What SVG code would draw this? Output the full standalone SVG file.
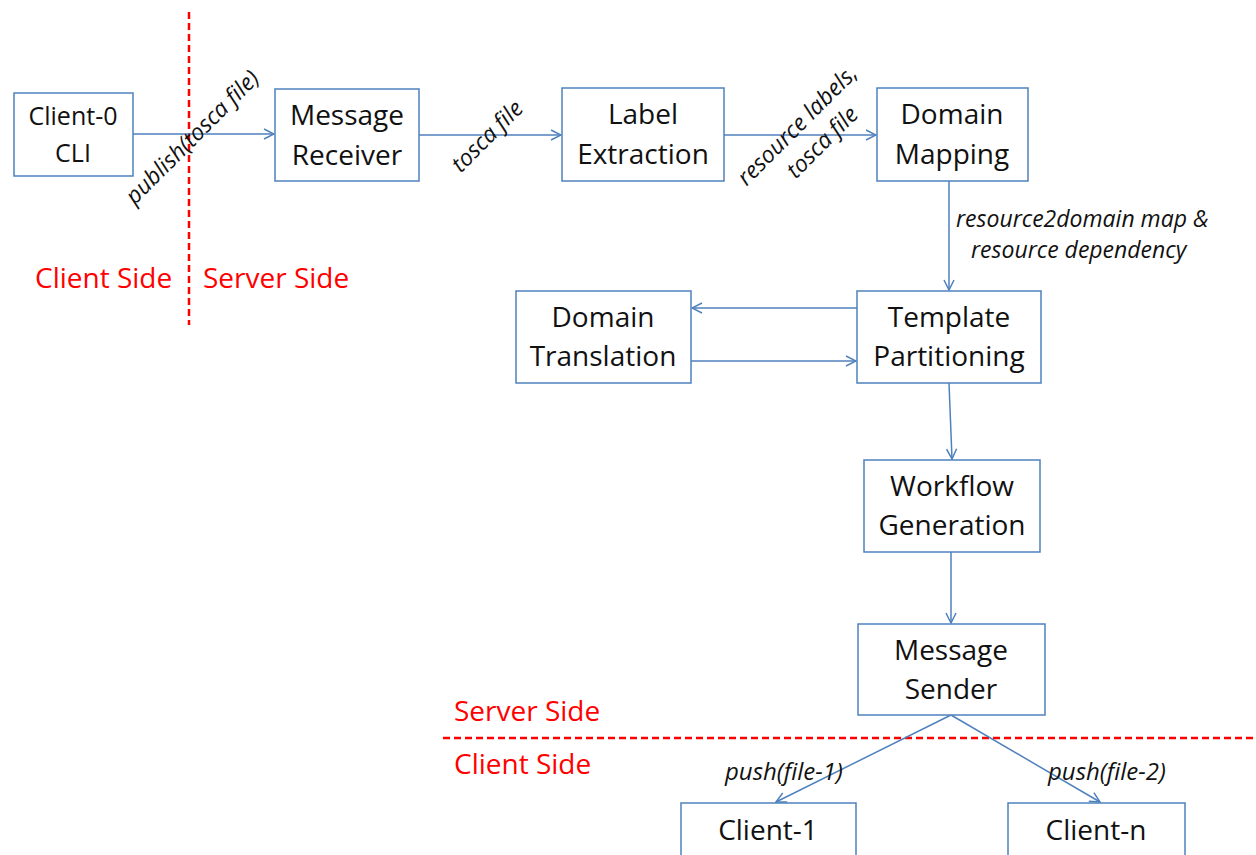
<svg xmlns="http://www.w3.org/2000/svg" width="1256" height="855" viewBox="0 0 1256 855">
<style>
.box{fill:#fff;stroke:#4F81BD;stroke-width:1.5}
.t{font-family:"Open Sans",Lato,sans-serif;font-size:28px;fill:#111;text-anchor:middle}
.s{font-size:25px}
.lbl{font-family:"Open Sans",Lato,sans-serif;font-size:23px;font-style:italic;fill:#111}
.p{font-size:24px}
.side{font-family:"Open Sans",Lato,sans-serif;font-size:28px;fill:#f00}
.red{stroke:#f00;stroke-width:2.5;stroke-dasharray:7,4;fill:none}
.c{stroke:#4F81BD;stroke-width:1.5;fill:none;marker-end:url(#ah)}
</style>
<defs>
<marker id="ah" viewBox="0 0 12 12" refX="11" refY="6" markerWidth="12" markerHeight="12" markerUnits="userSpaceOnUse" orient="auto">
<path d="M1,1 L11,6 L1,11" fill="none" stroke="#4F81BD" stroke-width="1.5"/>
</marker>
</defs>
<rect width="1256" height="855" fill="#fff"/>
<g id="dividers">
<line class="red" x1="189" y1="12" x2="189" y2="325"/>
<line class="red" x1="443" y1="738" x2="1256" y2="738"/>
<text class="side" x="35" y="288">Client Side</text>
<text class="side" x="203" y="288">Server Side</text>
<text class="side" x="454" y="721">Server Side</text>
<text class="side" x="454" y="774">Client Side</text>
</g>
<g id="connectors">
<line class="c" x1="133" y1="134" x2="274" y2="134"/>
<line class="c" x1="419" y1="135" x2="561" y2="135"/>
<line class="c" x1="724" y1="135" x2="876" y2="135"/>
<line class="c" x1="949" y1="181" x2="949" y2="290"/>
<line class="c" x1="857" y1="308" x2="692" y2="308"/>
<line class="c" x1="691" y1="361" x2="856" y2="361"/>
<line class="c" x1="949" y1="383" x2="952" y2="459"/>
<line class="c" x1="951" y1="552" x2="951" y2="623"/>
<line class="c" x1="951" y1="715" x2="776" y2="802"/>
<line class="c" x1="951" y1="715" x2="1100" y2="802"/>
<text class="lbl" transform="rotate(-45 192 137)" x="192" y="145" text-anchor="middle">publish(tosca file)</text>
<text class="lbl" transform="rotate(-45 487 136)" x="487" y="144" text-anchor="middle">tosca file</text>
<text class="lbl" transform="rotate(-45 797 125)" x="797" y="133" text-anchor="middle">resource labels,</text>
<text class="lbl" transform="rotate(-45 822 142)" x="822" y="150" text-anchor="middle">tosca file</text>
<text class="lbl" x="956" y="227">resource2domain map &amp;</text>
<text class="lbl" x="971" y="258">resource dependency</text>
<text class="lbl p" x="725" y="780">push(file-1)</text>
<text class="lbl p" x="1048" y="780">push(file-2)</text>
</g>
<g id="client0"><rect class="box" x="14" y="93" width="119" height="83"/><text class="t s" x="73" y="125">Client-0</text><text class="t s" x="73" y="162">CLI</text></g>
<g id="receiver"><rect class="box" x="275" y="89" width="144" height="92"/><text class="t" x="347" y="125">Message</text><text class="t" x="347" y="165">Receiver</text></g>
<g id="extraction"><rect class="box" x="562" y="88" width="162" height="93"/><text class="t" x="643" y="124">Label</text><text class="t" x="643" y="164">Extraction</text></g>
<g id="mapping"><rect class="box" x="877" y="88" width="151" height="93"/><text class="t" x="952" y="124">Domain</text><text class="t" x="952" y="164">Mapping</text></g>
<g id="translation"><rect class="box" x="516" y="291" width="175" height="92"/><text class="t" x="603" y="327">Domain</text><text class="t" x="603" y="366">Translation</text></g>
<g id="partitioning"><rect class="box" x="857" y="291" width="184" height="92"/><text class="t" x="949" y="327">Template</text><text class="t" x="949" y="366">Partitioning</text></g>
<g id="workflow"><rect class="box" x="864" y="460" width="176" height="92"/><text class="t" x="952" y="496">Workflow</text><text class="t" x="952" y="535">Generation</text></g>
<g id="sender"><rect class="box" x="858" y="624" width="187" height="91"/><text class="t" x="951" y="660">Message</text><text class="t" x="951" y="699">Sender</text></g>
<g id="client1"><rect class="box" x="681" y="803" width="175" height="60"/><text class="t" x="768" y="840">Client-1</text></g>
<g id="clientn"><rect class="box" x="1008" y="803" width="177" height="60"/><text class="t" x="1096" y="840">Client-n</text></g>
</svg>
